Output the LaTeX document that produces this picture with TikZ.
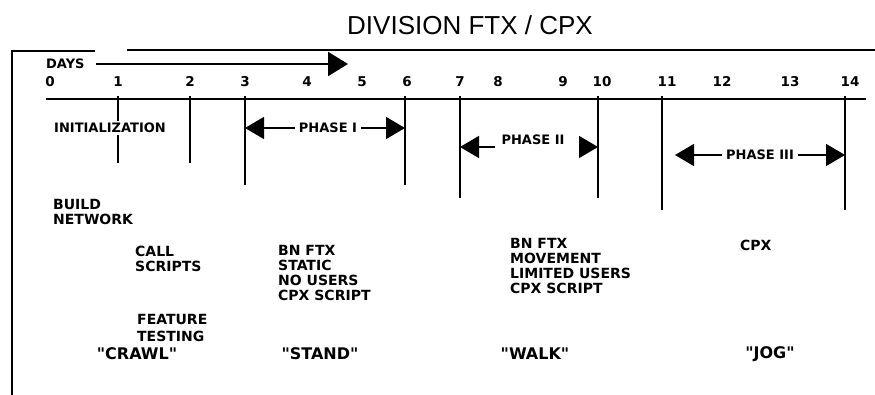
\documentclass[tikz,border=0pt]{standalone}
\usepackage{fontspec}
\setmainfont{Liberation Sans}
\newfontfamily\heavy{DejaVu Sans}
\usetikzlibrary{positioning,arrows.meta}

\begin{document}
\begin{tikzpicture}[
  x=1pt, y=-1pt,
  border/.style={line width=1.8pt},
  tickline/.style={line width=1.5pt},
  num/.style={font=\heavy\bfseries\fontsize{13.5}{15}\selectfont, inner sep=1pt, anchor=base},
  note/.style={font=\heavy\bfseries\fontsize{14}{15}\selectfont, align=left, anchor=north west, inner sep=0pt},
  phaselbl/.style={font=\heavy\bfseries\fontsize{13}{14}\selectfont, inner sep=4pt},
  phasearrow/.style={-{Triangle[length=19pt,width=22pt]}, line width=1.5pt},
  daysarrow/.style={-{Triangle[length=20pt,width=24pt]}, line width=2.2pt},
  motto/.style={font=\heavy\bfseries\fontsize{16}{18}\selectfont, inner sep=0pt}
  ]
  \useasboundingbox (0,0) rectangle (875,395);

  % Title and frame
  \node[font=\fontsize{26}{30}\selectfont] (title) at (470,25) {DIVISION FTX / CPX};
  \draw[border] (95,51) -- (12,51) -- (12,395);
  \draw[border] (127,50) -- (875,50);

  % Days scale
  \node[font=\heavy\bfseries\fontsize{13}{14}\selectfont, inner sep=1pt, anchor=west] (days) at (45,64) {DAYS};
  \coordinate (daysend) at (348,64);
  \draw[daysarrow, shorten <=10pt] (days.east) -- (daysend);
  \foreach \n/\x in {0/50,1/118,2/190,3/245,4/307,5/362,6/407,7/460,8/498,9/563,10/602,11/667,12/722,13/790,14/850}
    \node[num] (n\n) at (\x,87) {\n};
  \coordinate (axl) at (46,99);
  \coordinate (axr) at (866,99);
  \draw[border] (axl) -- (axr);
  \foreach \n/\x/\b in {1/118/163,2/190/163,3/245/185,6/405/185,7/460/198,10/598/198,11/662/210,14/845/210}
    \draw[tickline] (\x,96) -- (\x,\b) coordinate (t\n);

  % Phases
  \node[font=\heavy\bfseries\fontsize{13}{14}\selectfont, fill=white, inner sep=2pt] (init) at (110,128) {INITIALIZATION};
  \node[phaselbl] (ph1) at (328,128) {PHASE I};
  \draw[phasearrow] (ph1) -- (ph1 -| t3);
  \draw[phasearrow] (ph1) -- (ph1 -| t6);
  \node[phaselbl, inner sep=2pt] (ph2) at (533,140) {PHASE II};
  \coordinate (p2l) at (495,147);
  \coordinate (p2r) at (580,147);
  \draw[phasearrow] (p2l) -- (p2l -| t7);
  \draw[phasearrow] (p2r) -- (p2r -| t10);
  \node[phaselbl] (ph3) at (760,155) {PHASE III};
  \draw[phasearrow, shorten >=13pt] (ph3) -- (ph3 -| t11);
  \draw[phasearrow] (ph3) -- (ph3 -| t14);

  % Activities
  \node[note] (build) at (53,199) {BUILD\\NETWORK};
  \node[note] (call) at (135,246) {CALL\\SCRIPTS};
  \node[note, font=\heavy\bfseries\fontsize{14}{17}\selectfont] (feat) at (137,314) {FEATURE\\TESTING};
  \node[note] (bn1) at (278,245) {BN FTX\\STATIC\\NO USERS\\CPX SCRIPT};
  \node[note] (bn2) at (510,238) {BN FTX\\MOVEMENT\\LIMITED USERS\\CPX SCRIPT};
  \node[note] (cpx) at (740,240) {CPX};

  % Stages
  \node[motto] (crawl) at (137,354) {"CRAWL"};
  \node[motto] (stand) at (320,354) {"STAND"};
  \node[motto] (walk) at (535,354) {"WALK"};
  \node[motto] (jog) at (770,354) {"JOG"};
\end{tikzpicture}
\end{document}
